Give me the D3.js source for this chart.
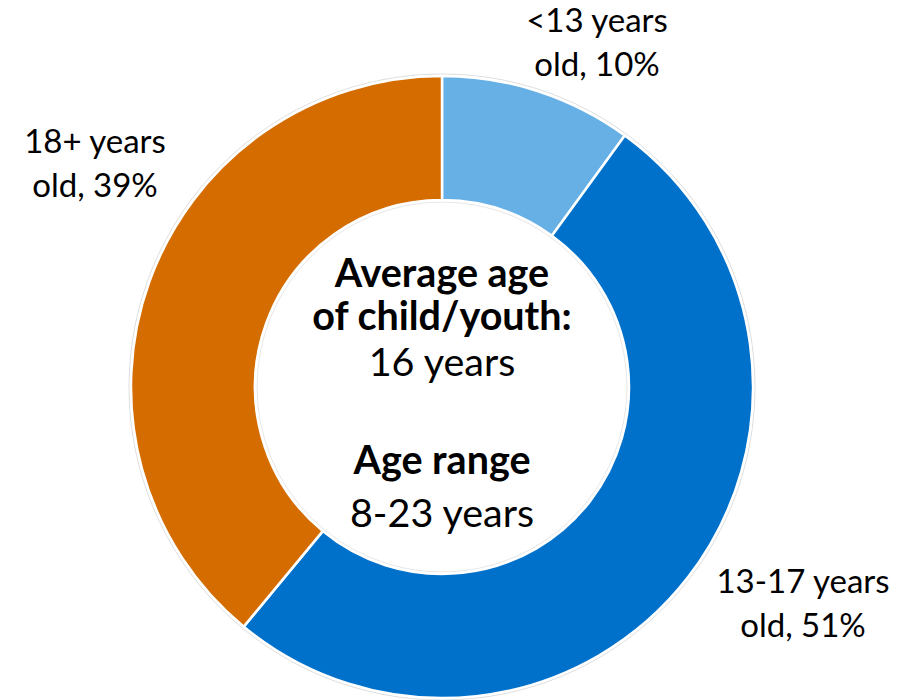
<!DOCTYPE html>
<html>
<head>
<meta charset="utf-8">
<script src="https://cdn.jsdelivr.net/npm/d3@7"></script>
<style>
  html, body { margin: 0; padding: 0; background: #fff; }
  svg { display: block; }
  text { font-family: Lato, "Open Sans", sans-serif; fill: #000; }
</style>
</head>
<body>
<svg id="chart" width="920" height="700"></svg>
<script>
// Age groups of children/youth and their shares (%)
const categories = ["<13 years old", "13-17 years old", "18+ years old"];
const shares = [10, 51, 39];
const labelLines = [["<13 years", "old, 10%"], ["13-17 years", "old, 51%"], ["18+ years", "old, 39%"]];
const sliceColors = ["#66B0E6", "#0071CB", "#D46C00"];

// Text shown in the hole of the donut
const centerLines = [
  { text: "Average age", bold: true },
  { text: "of child/youth:", bold: true },
  { text: "16 years", bold: false },
  { text: "Age range", bold: true },
  { text: "8-23 years", bold: false }
];

const svg = d3.select("#chart");
const cx = 442, cy = 387;
const outerR = 311, innerR = 187;

const g = svg.append("g").attr("transform", `translate(${cx},${cy})`);

const pie = d3.pie().sort(null).value(d => d);
const arcs = pie(shares);
const arc = d3.arc().innerRadius(innerR).outerRadius(outerR);

// faint outline around the ring
g.append("circle")
  .attr("r", outerR + 2)
  .attr("fill", "none")
  .attr("stroke", "#d4d4d4")
  .attr("stroke-width", 0.8);
g.append("circle")
  .attr("r", innerR - 2)
  .attr("fill", "none")
  .attr("stroke", "#e0e0e0")
  .attr("stroke-width", 0.8);

g.selectAll("path.slice")
  .data(arcs)
  .join("path")
  .attr("class", "slice")
  .attr("d", arc)
  .attr("fill", (d, i) => sliceColors[i])
  .attr("stroke", "#fff")
  .attr("stroke-width", 2.5);

// Slice labels placed outside the ring
const labelPos = [
  { x: 597, y: 32 },
  { x: 803, y: 593 },
  { x: 95, y: 153 }
];
const lineGap = 44;
const labelSize = 33;
const centerSize = 39.5;

svg.selectAll("text.slice-label")
  .data(arcs)
  .join("text")
  .attr("class", "slice-label")
  .attr("text-anchor", "middle")
  .attr("font-size", labelSize)
  .each(function(d, i) {
    const t = d3.select(this);
    labelLines[i].forEach((line, j) => {
      t.append("tspan")
        .attr("x", labelPos[i].x)
        .attr("y", labelPos[i].y + j * lineGap)
        .text(line);
    });
  });

// Center annotation
const centerBaselines = [287, 330, 376, 474, 527];
svg.selectAll("text.center")
  .data(centerLines)
  .join("text")
  .attr("class", "center")
  .attr("x", cx)
  .attr("y", (d, i) => centerBaselines[i])
  .attr("text-anchor", "middle")
  .attr("font-size", centerSize)
  .attr("font-weight", d => d.bold ? 700 : 400)
  .text(d => d.text);
</script>
</body>
</html>
